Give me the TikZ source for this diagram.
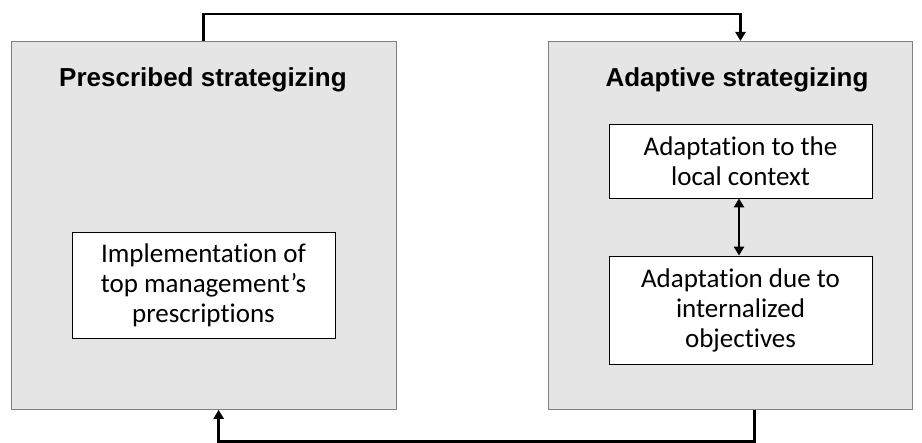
\documentclass[tikz,border=0pt]{standalone}
\usepackage{fontspec}
\setmainfont{Carlito}[Ligatures=NoCommon]
\newfontfamily\headfont{Liberation Sans}
\usetikzlibrary{arrows.meta}

\tikzset{
  stratbox/.style={draw=gray, line width=0.8pt, fill=gray!20, anchor=north west, inner sep=0pt},
  headtext/.style={font=\headfont\bfseries\fontsize{26}{30}\selectfont},
  itembox/.style={draw=black, line width=0.8pt, fill=white, align=center, minimum width=263pt,
    font=\fontsize{27}{30}\selectfont, inner sep=2pt},
  link/.style={line width=2.6pt, -{Triangle[length=9pt,width=10pt]}},
  dlink/.style={line width=2.6pt, {Triangle[length=9pt,width=10pt]}-{Triangle[length=9pt,width=10pt]}}
}

\begin{document}
\begin{tikzpicture}[x=1pt,y=-1pt]
	\useasboundingbox (0,0) rectangle (922,443);
	% the two phases
	\node[stratbox, minimum width=385.5pt, minimum height=368pt] (pres) at (10.5,41) {};
	\node[stratbox, minimum width=364pt, minimum height=368pt] (adapt) at (548,41) {};
	\node[headtext] (prestitle) at (203,80) {Prescribed strategizing};
	\node[headtext] (adapttitle) at (737,80) {Adaptive strategizing};
	% inner boxes
	\node[itembox, minimum height=106pt] (impl) at (203.5,285) {Implementation of\\top management’s\\prescriptions};
	\node[itembox, minimum height=74pt] (ctx) at (740.5,161) {Adaptation to the\\local context};
	\node[itembox, minimum height=108pt] (intern) at (740.5,310) {Adaptation due to\\internalized\\objectives};
	% connectors
	\draw[dlink] (ctx.south -| 739,0) -- (intern.north -| 739,0);
	\draw[link] (pres.north) -- ++(0,-27) -| (ctx.north |- adapt.north);
	\draw[link] ([xshift=24pt]adapt.south) -- ++(0,32) -| ([xshift=15pt]pres.south);
\end{tikzpicture}
\end{document}
